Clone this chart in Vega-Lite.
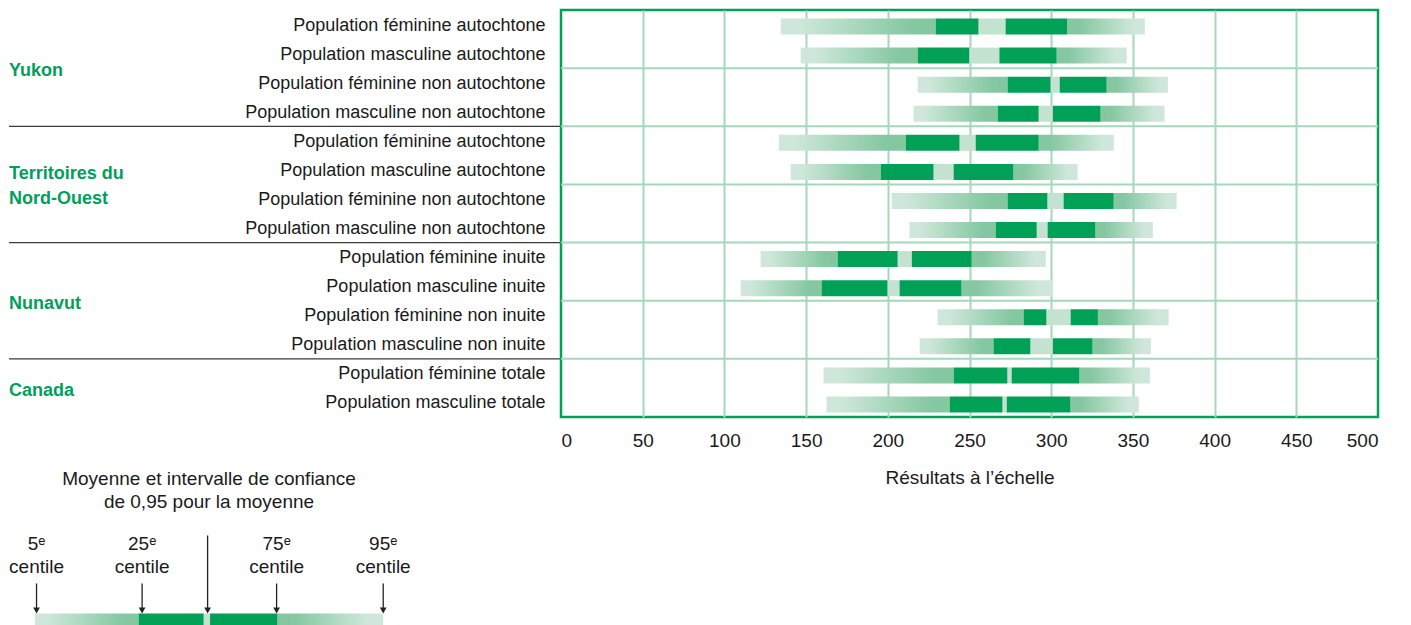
{
  "$schema": "https://vega.github.io/schema/vega-lite/v6.json",
  "padding": {"left": 8, "top": 8, "right": 5, "bottom": 0},
  "background": "white",
  "columns": 2,
  "bounds": "flush",
  "spacing": {"row": 116.5, "column": 0},
  "config": {
    "view": {"stroke": "#00a057", "strokeWidth": 2.5},
    "font": "Liberation Sans, Arial, sans-serif"
  },
  "datasets": {
    "resultats": [
      {"groupe": "Yukon", "cle": "Yukon|Population féminine autochtone", "rang": 1, "p5": 134.5, "p25": 229.3, "ci_bas": 255.6, "ci_haut": 272.1, "p75": 310.0, "p95": 357.3},
      {"groupe": "Yukon", "cle": "Yukon|Population masculine autochtone", "rang": 2, "p5": 146.7, "p25": 218.3, "ci_bas": 250.0, "ci_haut": 268.3, "p75": 303.4, "p95": 346.2},
      {"groupe": "Yukon", "cle": "Yukon|Population féminine non autochtone", "rang": 3, "p5": 218.3, "p25": 273.3, "ci_bas": 299.7, "ci_haut": 305.2, "p75": 334.0, "p95": 371.4},
      {"groupe": "Yukon", "cle": "Yukon|Population masculine non autochtone", "rang": 4, "p5": 215.8, "p25": 267.3, "ci_bas": 292.4, "ci_haut": 301.0, "p75": 330.3, "p95": 369.4},
      {"groupe": "Territoires du\nNord-Ouest", "cle": "TNO|Population féminine autochtone", "rang": 5, "p5": 133.3, "p25": 211.0, "ci_bas": 244.0, "ci_haut": 253.8, "p75": 292.4, "p95": 338.3},
      {"groupe": "Territoires du\nNord-Ouest", "cle": "TNO|Population masculine autochtone", "rang": 6, "p5": 140.6, "p25": 195.7, "ci_bas": 228.1, "ci_haut": 240.3, "p75": 277.0, "p95": 316.2},
      {"groupe": "Territoires du\nNord-Ouest", "cle": "TNO|Population féminine non autochtone", "rang": 7, "p5": 202.4, "p25": 273.3, "ci_bas": 297.8, "ci_haut": 307.6, "p75": 338.3, "p95": 376.8},
      {"groupe": "Territoires du\nNord-Ouest", "cle": "TNO|Population masculine non autochtone", "rang": 8, "p5": 213.3, "p25": 266.0, "ci_bas": 291.2, "ci_haut": 297.8, "p75": 327.2, "p95": 362.2},
      {"groupe": "Nunavut", "cle": "Nunavut|Population féminine inuite", "rang": 9, "p5": 122.2, "p25": 169.3, "ci_bas": 206.1, "ci_haut": 214.7, "p75": 251.4, "p95": 296.7},
      {"groupe": "Nunavut", "cle": "Nunavut|Population masculine inuite", "rang": 10, "p5": 110.0, "p25": 159.5, "ci_bas": 199.9, "ci_haut": 207.2, "p75": 245.2, "p95": 300.9},
      {"groupe": "Nunavut", "cle": "Nunavut|Population féminine non inuite", "rang": 11, "p5": 230.5, "p25": 283.1, "ci_bas": 297.2, "ci_haut": 311.9, "p75": 328.6, "p95": 371.9},
      {"groupe": "Nunavut", "cle": "Nunavut|Population masculine non inuite", "rang": 12, "p5": 219.5, "p25": 264.7, "ci_bas": 287.4, "ci_haut": 301.0, "p75": 325.4, "p95": 361.0},
      {"groupe": "Canada", "cle": "Canada|Population féminine totale", "rang": 13, "p5": 160.7, "p25": 240.3, "ci_bas": 273.3, "ci_haut": 275.8, "p75": 317.4, "p95": 360.4},
      {"groupe": "Canada", "cle": "Canada|Population masculine totale", "rang": 14, "p5": 162.5, "p25": 237.9, "ci_bas": 270.3, "ci_haut": 272.8, "p75": 311.9, "p95": 353.6}
    ],
    "legende": [{"p5": 0, "p25": 29.8, "ci_bas": 48.5, "ci_haut": 50.3, "p75": 69.7, "p95": 100}],
    "reperes": [
      {"repere": "5ᵉ\ncentile", "valeur": 0.5, "type": "centile"},
      {"repere": "25ᵉ\ncentile", "valeur": 30.8, "type": "centile"},
      {"repere": "Moyenne", "valeur": 49.6, "type": "moyenne"},
      {"repere": "75ᵉ\ncentile", "valeur": 69.4, "type": "centile"},
      {"repere": "95ᵉ\ncentile", "valeur": 100, "type": "centile"}
    ]
  },
  "concat": [
    {
      "width": 552,
      "height": 407,
      "view": {"stroke": null},
      "data": {"name": "resultats"},
      "resolve": {"scale": {"y": "independent"}},
      "layer": [
        {
          "transform": [{"joinaggregate": [{"op": "max", "field": "rang", "as": "rang_max"}], "groupby": ["groupe"]}],
          "mark": {"type": "rule", "color": "#3a3a3a", "strokeWidth": 1.3},
          "encoding": {
            "y": {"field": "cle", "type": "nominal", "sort": {"field": "rang", "op": "min"}, "bandPosition": 1,
              "scale": {"paddingInner": 0, "paddingOuter": 0}, "axis": null},
            "strokeOpacity": {"condition": {"test": "datum.rang == datum.rang_max && datum.groupe != 'Canada'", "value": 1}, "value": 0}
          }
        },
        {
          "transform": [{"aggregate": [{"op": "mean", "field": "rang", "as": "centre"}], "groupby": ["groupe"]}],
          "encoding": {
            "x": {"datum": 0, "type": "quantitative", "scale": {"domain": [0, 1], "nice": false}, "axis": null},
            "y": {"field": "centre", "type": "quantitative", "scale": {"domain": [0.5, 14.5], "reverse": true, "nice": false, "zero": false}, "axis": null},
            "text": {"field": "groupe"}
          },
          "layer": [
            {
              "transform": [{"filter": "indexof(datum.groupe, '\\n') < 0"}],
              "mark": {"type": "text", "align": "left", "baseline": "middle", "fontSize": 18, "fontWeight": "bold", "color": "#00a05a", "dy": 3}
            },
            {
              "transform": [{"filter": "indexof(datum.groupe, '\\n') >= 0"}],
              "mark": {"type": "text", "align": "left", "baseline": "middle", "fontSize": 18, "fontWeight": "bold", "color": "#00a05a", "lineBreak": "\n", "lineHeight": 25, "dy": -10}
            }
          ]
        }
      ]
    },
    {
      "width": 817,
      "height": 407,
      "data": {"name": "resultats"},
      "layer": [
        {
          "transform": [{"filter": "datum.rang % 2 == 0 && datum.rang < 14"}],
          "mark": {"type": "rule", "color": "#a5d7ba", "strokeWidth": 2},
          "encoding": {
            "y": {"field": "cle", "type": "nominal", "sort": {"field": "rang", "op": "min"}, "bandPosition": 1}
          }
        },
        {
          "mark": {"type": "bar", "height": {"band": 0.55}, "yOffset": 2,
            "color": {"gradient": "linear", "x1": 0, "x2": 1, "y1": 0, "y2": 0,
              "stops": [{"offset": 0, "color": "#cfe7da"}, {"offset": 0.12, "color": "#cfe7da"}, {"offset": 0.85, "color": "#84c7a1"}, {"offset": 1, "color": "#84c7a1"}]}},
          "encoding": {
            "x": {"field": "p5", "type": "quantitative",
              "scale": {"domain": [0, 500], "nice": false, "zero": false},
              "axis": {
                "values": [0, 50, 100, 150, 200, 250, 300, 350, 400, 450, 500],
                "grid": true, "gridColor": "#a5d7ba", "gridWidth": 2,
                "gridOpacity": {"condition": {"test": "datum.value == 0 || datum.value == 500", "value": 0}, "value": 1},
                "ticks": false, "domain": false,
                "labelFontSize": 19, "labelColor": "#1a1a1a", "labelPadding": 14,
                "title": "Résultats à l’échelle", "titleFontSize": 19, "titleFontWeight": "normal", "titleColor": "#1a1a1a", "titlePadding": 18
              }},
            "x2": {"field": "p25"},
            "y": {"field": "cle", "type": "nominal", "sort": {"field": "rang", "op": "min"},
              "scale": {"paddingInner": 0, "paddingOuter": 0},
              "axis": {"title": null, "ticks": false, "domain": false, "grid": false,
                "labelExpr": "split(datum.label, '|')[1]", "labelFontSize": 18, "labelColor": "#1a1a1a",
                "labelPadding": 16, "labelOffset": 1, "labelLimit": 500}}
          }
        },
        {
          "mark": {"type": "bar", "height": {"band": 0.55}, "yOffset": 2, "color": "#00a057"},
          "encoding": {
            "x": {"field": "p25", "type": "quantitative"}, "x2": {"field": "ci_bas"},
            "y": {"field": "cle", "type": "nominal", "sort": {"field": "rang", "op": "min"}}
          }
        },
        {
          "mark": {"type": "bar", "height": {"band": 0.55}, "yOffset": 2, "color": "#c3e2cf"},
          "encoding": {
            "x": {"field": "ci_bas", "type": "quantitative"}, "x2": {"field": "ci_haut"},
            "y": {"field": "cle", "type": "nominal", "sort": {"field": "rang", "op": "min"}}
          }
        },
        {
          "mark": {"type": "bar", "height": {"band": 0.55}, "yOffset": 2, "color": "#00a057"},
          "encoding": {
            "x": {"field": "ci_haut", "type": "quantitative"}, "x2": {"field": "p75"},
            "y": {"field": "cle", "type": "nominal", "sort": {"field": "rang", "op": "min"}}
          }
        },
        {
          "mark": {"type": "bar", "height": {"band": 0.55}, "yOffset": 2,
            "color": {"gradient": "linear", "x1": 0, "x2": 1, "y1": 0, "y2": 0,
              "stops": [{"offset": 0, "color": "#84c7a1"}, {"offset": 0.15, "color": "#84c7a1"}, {"offset": 0.85, "color": "#cfe7da"}, {"offset": 1, "color": "#cfe7da"}]}},
          "encoding": {
            "x": {"field": "p75", "type": "quantitative"}, "x2": {"field": "p95"},
            "y": {"field": "cle", "type": "nominal", "sort": {"field": "rang", "op": "min"}}
          }
        }
      ]
    },
    {
      "width": 400,
      "height": 99,
      "view": {"stroke": null},
      "title": {"text": ["Moyenne et intervalle de confiance", "de 0,95 pour la moyenne"], "anchor": "middle", "fontSize": 19, "fontWeight": "normal", "color": "#1a1a1a", "lineHeight": 23.7, "offset": 21},
      "layer": [
        {
          "data": {"name": "legende"},
          "encoding": {
            "y": {"datum": 80, "type": "quantitative", "scale": {"domain": [0, 99], "reverse": true, "nice": false, "zero": false}, "axis": null},
            "y2": {"datum": 96}
          },
          "layer": [
            {"mark": {"type": "bar", "color": {"gradient": "linear", "x1": 0, "x2": 1, "y1": 0, "y2": 0, "stops": [{"offset": 0, "color": "#cfe7da"}, {"offset": 0.12, "color": "#cfe7da"}, {"offset": 0.85, "color": "#84c7a1"}, {"offset": 1, "color": "#84c7a1"}]}},
             "encoding": {"x": {"field": "p5", "type": "quantitative", "scale": {"domain": [-7.4, 107.4], "nice": false, "zero": false}, "axis": null}, "x2": {"field": "p25"}}},
            {"mark": {"type": "bar", "color": "#00a057"}, "encoding": {"x": {"field": "p25", "type": "quantitative"}, "x2": {"field": "ci_bas"}}},
            {"mark": {"type": "bar", "color": "#c3e2cf"}, "encoding": {"x": {"field": "ci_bas", "type": "quantitative"}, "x2": {"field": "ci_haut"}}},
            {"mark": {"type": "bar", "color": "#00a057"}, "encoding": {"x": {"field": "ci_haut", "type": "quantitative"}, "x2": {"field": "p75"}}},
            {"mark": {"type": "bar", "color": {"gradient": "linear", "x1": 0, "x2": 1, "y1": 0, "y2": 0, "stops": [{"offset": 0, "color": "#84c7a1"}, {"offset": 0.15, "color": "#84c7a1"}, {"offset": 0.85, "color": "#cfe7da"}, {"offset": 1, "color": "#cfe7da"}]}},
             "encoding": {"x": {"field": "p75", "type": "quantitative"}, "x2": {"field": "p95"}}}
          ]
        },
        {
          "data": {"name": "reperes"},
          "encoding": {
            "x": {"field": "valeur", "type": "quantitative"}
          },
          "layer": [
            {
              "transform": [{"filter": "datum.type == 'centile'"}],
              "mark": {"type": "text", "align": "center", "baseline": "middle", "fontSize": 19, "color": "#1a1a1a", "lineBreak": "\n", "lineHeight": 23},
              "encoding": {"y": {"datum": 10, "type": "quantitative"}, "text": {"field": "repere"}}
            },
            {
              "transform": [{"filter": "datum.type == 'centile'"}],
              "mark": {"type": "rule", "color": "#222", "strokeWidth": 1.3},
              "encoding": {"y": {"datum": 50, "type": "quantitative"}, "y2": {"datum": 76}}
            },
            {
              "transform": [{"filter": "datum.type == 'moyenne'"}],
              "mark": {"type": "rule", "color": "#222", "strokeWidth": 1.3},
              "encoding": {"y": {"datum": 2, "type": "quantitative"}, "y2": {"datum": 76}}
            },
            {
              "mark": {"type": "point", "shape": "triangle-down", "filled": true, "size": 45, "color": "#222", "opacity": 1},
              "encoding": {"y": {"datum": 77, "type": "quantitative"}}
            }
          ]
        }
      ]
    }
  ]
}
